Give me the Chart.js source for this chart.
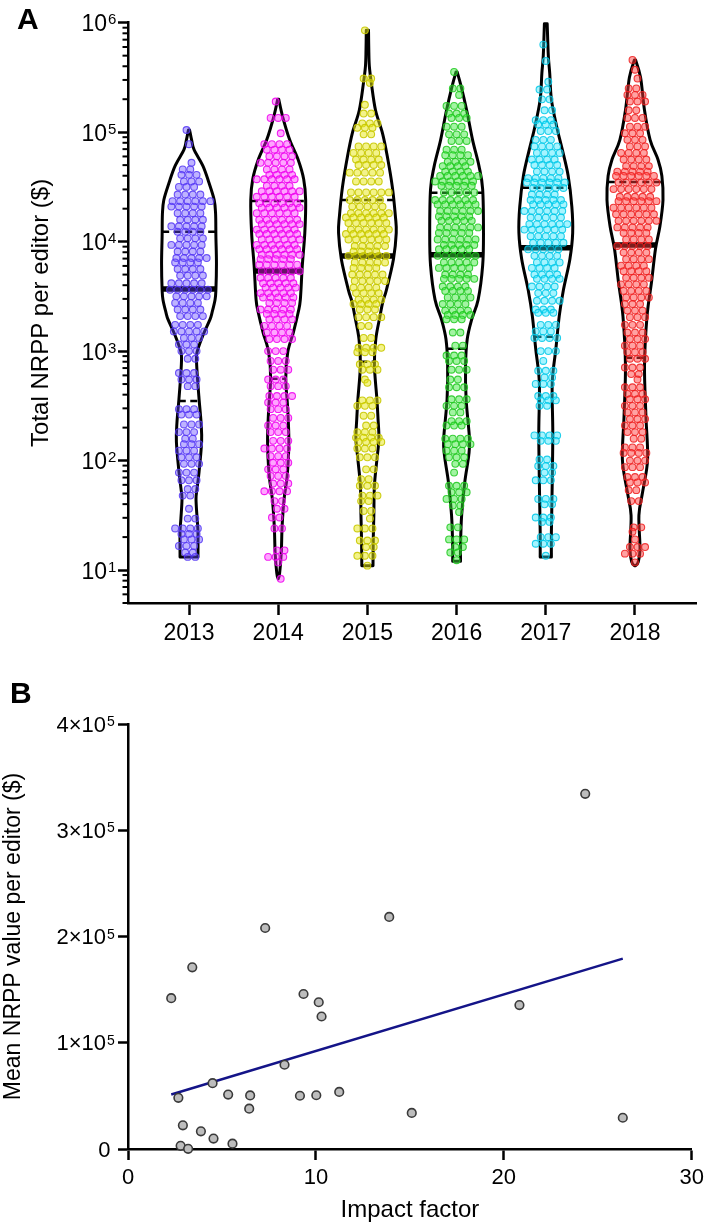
<!DOCTYPE html>
<html>
<head>
<meta charset="utf-8">
<script src="https://cdn.jsdelivr.net/npm/chart.js@4.4.1/dist/chart.umd.min.js"></script>
<style>
  html, body { margin: 0; padding: 0; background: #fff; }
  body { width: 709px; height: 1224px; position: relative; overflow: hidden; }
  #ca { position: absolute; left: 0; top: 0; }
  #cb { position: absolute; left: 0; top: 660px; }
</style>
</head>
<body>
<canvas id="ca" width="709" height="660"></canvas>
<canvas id="cb" width="709" height="564"></canvas>
<script>
// ---------------- DATA: panel A ----------------
const years = [2013, 2014, 2015, 2016, 2017, 2018];

// Editors per value level: [log10 of total NRPP ($), number of editors at that level]
const rows2013 = [[5.02,1],[4.89,1],[4.72,1],[4.66,2],[4.61,3],[4.55,3],[4.5,3],[4.43,4],[4.37,6],[4.32,5],[4.26,4],[4.2,4],[4.14,5],[4.09,4],[4.03,4],[3.97,5],[3.91,4],[3.85,5],[3.81,4],[3.75,4],[3.69,4],[3.62,5],[3.56,6],[3.5,5],[3.44,4],[3.38,4],[3.32,4],[3.24,4],[3.18,5],[3.12,3],[3.06,3],[3.0,3],[2.93,2],[2.8,3],[2.74,3],[2.68,2],[2.47,3],[2.42,3],[2.33,3],[2.26,3],[2.2,2],[2.15,3],[2.09,3],[2.03,3],[1.97,3],[1.89,3],[1.82,3],[1.74,2],[1.68,2],[1.56,1],[1.47,2],[1.38,4],[1.33,3],[1.28,3],[1.22,3],[1.16,2],[1.12,2]];
const rows2014 = [[5.28,1],[5.13,3],[4.99,1],[4.89,4],[4.84,4],[4.78,4],[4.72,5],[4.66,4],[4.61,4],[4.57,6],[4.51,4],[4.46,6],[4.41,6],[4.35,6],[4.31,6],[4.26,6],[4.2,6],[4.16,6],[4.11,6],[4.07,6],[4.02,6],[3.97,6],[3.93,6],[3.88,6],[3.84,5],[3.79,6],[3.73,6],[3.67,5],[3.62,5],[3.58,5],[3.53,5],[3.49,5],[3.44,4],[3.38,5],[3.34,4],[3.29,4],[3.23,4],[3.17,4],[3.11,4],[3.0,3],[2.91,3],[2.83,3],[2.74,3],[2.68,3],[2.59,4],[2.53,3],[2.47,3],[2.39,3],[2.32,3],[2.26,3],[2.18,3],[2.11,4],[2.04,3],[1.98,3],[1.92,3],[1.86,3],[1.79,3],[1.72,4],[1.63,2],[1.56,2],[1.48,2],[1.38,2],[1.18,2],[1.12,3],[1.07,1],[0.92,1]];
const rows2015 = [[5.93,1],[5.49,2],[5.45,1],[5.25,1],[5.17,2],[5.08,3],[5.04,3],[4.98,2],[4.87,4],[4.81,4],[4.75,4],[4.7,4],[4.63,5],[4.55,4],[4.45,6],[4.38,5],[4.32,5],[4.26,6],[4.22,6],[4.17,6],[4.11,6],[4.07,6],[4.02,6],[3.96,5],[3.91,4],[3.87,6],[3.81,5],[3.76,4],[3.7,5],[3.64,5],[3.58,4],[3.53,4],[3.47,4],[3.43,4],[3.38,3],[3.31,4],[3.23,2],[3.12,2],[3.03,4],[2.99,3],[2.88,3],[2.83,3],[2.74,1],[2.71,1],[2.55,3],[2.5,3],[2.41,2],[2.32,2],[2.26,3],[2.21,4],[2.17,4],[2.11,3],[2.03,3],[1.92,2],[1.83,2],[1.77,3],[1.68,3],[1.63,2],[1.54,2],[1.47,1],[1.38,3],[1.27,3],[1.21,2],[1.13,3],[1.04,1]];
const rows2016 = [[5.55,1],[5.4,2],[5.34,1],[5.24,3],[5.17,3],[5.13,3],[5.05,3],[4.98,3],[4.92,3],[4.84,3],[4.79,4],[4.73,4],[4.69,4],[4.64,4],[4.6,6],[4.55,6],[4.51,5],[4.45,5],[4.38,6],[4.34,6],[4.28,6],[4.23,5],[4.19,5],[4.13,6],[4.08,5],[4.02,6],[3.97,5],[3.93,5],[3.87,6],[3.81,5],[3.76,5],[3.7,4],[3.66,5],[3.59,4],[3.55,4],[3.49,4],[3.43,4],[3.37,4],[3.33,4],[3.29,3],[3.17,2],[3.05,2],[2.96,3],[2.91,3],[2.83,3],[2.74,2],[2.67,3],[2.56,3],[2.5,3],[2.44,2],[2.36,3],[2.32,3],[2.2,4],[2.15,4],[2.09,3],[2.03,3],[1.97,2],[1.89,1],[1.77,3],[1.71,3],[1.65,3],[1.59,2],[1.53,1],[1.39,2],[1.28,3],[1.21,2],[1.16,2],[1.09,1]];
const rows2017 = [[5.8,1],[5.65,1],[5.46,1],[5.39,2],[5.3,2],[5.2,2],[5.11,3],[5.07,3],[5.01,3],[4.93,3],[4.87,4],[4.81,4],[4.75,4],[4.7,4],[4.64,4],[4.58,5],[4.54,6],[4.49,5],[4.43,4],[4.38,5],[4.34,5],[4.28,6],[4.22,5],[4.16,6],[4.11,6],[4.05,5],[3.99,5],[3.93,5],[3.87,4],[3.81,4],[3.76,4],[3.7,4],[3.66,4],[3.59,4],[3.53,3],[3.46,4],[3.38,3],[3.35,3],[3.24,3],[3.18,3],[3.12,4],[3.0,3],[2.91,1],[2.82,3],[2.76,2],[2.7,3],[2.59,3],[2.55,3],[2.5,2],[2.23,4],[2.18,3],[2.01,2],[1.95,3],[1.89,2],[1.82,3],[1.65,3],[1.6,2],[1.48,3],[1.44,2],[1.3,3],[1.24,3],[1.13,1]];
const rows2018 = [[5.66,1],[5.57,1],[5.49,1],[5.4,2],[5.34,3],[5.28,3],[5.2,2],[5.13,3],[5.05,3],[4.99,3],[4.93,3],[4.87,3],[4.81,4],[4.75,4],[4.69,4],[4.64,5],[4.6,6],[4.54,6],[4.48,6],[4.41,5],[4.37,6],[4.31,6],[4.25,6],[4.19,6],[4.13,5],[4.08,4],[4.02,4],[3.96,5],[3.9,4],[3.84,4],[3.78,4],[3.73,4],[3.67,4],[3.61,4],[3.55,4],[3.49,4],[3.43,3],[3.37,3],[3.31,3],[3.24,3],[3.17,3],[3.11,3],[3.05,3],[2.99,3],[2.93,3],[2.85,3],[2.79,2],[2.74,1],[2.67,3],[2.61,3],[2.56,3],[2.5,3],[2.44,3],[2.38,3],[2.32,3],[2.26,3],[2.2,2],[2.12,3],[2.07,4],[2.0,3],[1.94,3],[1.85,3],[1.8,3],[1.73,2],[1.63,2],[1.39,2],[1.35,1],[1.28,1],[1.21,3],[1.15,3],[1.07,1]];

// Violin density profiles: [log10 value, relative density (1 = widest)]
const violin2013 = [[5.02,0.02],[4.92,0.1],[4.84,0.18],[4.69,0.5],[4.54,0.71],[4.38,0.9],[4.25,0.95],[4.05,0.96],[3.8,0.98],[3.56,0.96],[3.47,0.93],[3.35,0.82],[3.29,0.75],[3.17,0.54],[3.05,0.36],[2.96,0.27],[2.8,0.29],[2.56,0.36],[2.35,0.43],[2.17,0.45],[1.9,0.36],[1.75,0.29],[1.65,0.25],[1.47,0.29],[1.35,0.32],[1.12,0.32]];
const violin2014 = [[5.3,0.02],[5.14,0.16],[4.93,0.41],[4.75,0.71],[4.57,0.91],[4.38,0.98],[4.08,0.95],[3.78,0.86],[3.47,0.79],[3.35,0.71],[3.17,0.54],[2.99,0.34],[2.75,0.27],[2.47,0.34],[2.17,0.38],[1.86,0.32],[1.65,0.21],[1.4,0.14],[1.16,0.11],[0.97,0.05],[0.92,0.0]];
const violin2015 = [[5.93,0.04],[5.75,0.05],[5.6,0.07],[5.45,0.14],[5.2,0.29],[4.99,0.54],[4.78,0.71],[4.5,0.89],[4.23,1.0],[4.08,1.03],[3.84,0.93],[3.56,0.68],[3.45,0.55],[3.32,0.45],[3.11,0.3],[2.87,0.25],[2.56,0.34],[2.38,0.38],[2.2,0.41],[2.01,0.34],[1.77,0.25],[1.5,0.23],[1.29,0.21],[1.04,0.2]];
const violin2016 = [[5.55,0.02],[5.42,0.16],[5.2,0.36],[4.93,0.57],[4.69,0.8],[4.48,0.93],[4.08,0.96],[3.78,0.93],[3.47,0.77],[3.29,0.54],[3.11,0.38],[2.87,0.32],[2.56,0.34],[2.2,0.46],[2.04,0.43],[1.8,0.29],[1.5,0.18],[1.22,0.14],[1.08,0.14]];
const violin2017 = [[5.99,0.05],[5.7,0.09],[5.54,0.14],[5.3,0.2],[5.05,0.39],[4.84,0.59],[4.6,0.8],[4.32,0.93],[4.08,0.96],[3.84,0.86],[3.56,0.63],[3.32,0.48],[3.02,0.36],[2.71,0.23],[2.26,0.25],[1.8,0.23],[1.35,0.2],[1.12,0.2]];
const violin2018 = [[5.66,0.02],[5.5,0.2],[5.2,0.34],[4.93,0.54],[4.75,0.82],[4.6,0.96],[4.38,1.0],[4.14,0.89],[3.93,0.73],[3.63,0.59],[3.32,0.43],[2.87,0.34],[2.41,0.39],[2.01,0.45],[1.71,0.27],[1.5,0.14],[1.19,0.18],[1.07,0.11],[1.04,0.02]];

// Summary lines ($)
const medians        = [3700, 5400, 7400, 7600, 8800, 9300];
const upperQuartiles = [12300, 23500, 24000, 28000, 31000, 35000];
const lowerQuartiles = [350, 560, 800, 1050, 1350, 870];

// Axis A tick labels
const decadeValues = [10, 100, 1000, 10000, 100000, 1000000];
const decadeExps   = ['1', '2', '3', '4', '5', '6'];

// ---------------- DATA: panel B ----------------
const impactFactor = [2.3, 3.42, 7.3, 13.9, 24.33, 9.34, 10.15, 10.3, 20.83, 8.33, 4.5, 2.68, 5.33, 6.5, 6.45, 9.15, 10.02, 11.24, 15.1, 26.33, 2.92, 3.88, 4.55, 2.8, 3.2, 5.56];
const meanNRPP     = [142000, 171000, 208000, 218400, 334300, 145900, 138100, 124700, 135500, 79300, 62000, 48200, 51200, 50400, 38000, 50100, 50600, 53700, 34000, 29400, 22300, 16600, 9800, 3000, 200, 5000];
const fitX = [2.3, 26.33];
const fitY = [51300, 179200];
const bTickValues = [0, 100000, 200000, 300000, 400000];
const bTickMain   = ['0', '1×10', '2×10', '3×10', '4×10'];
const bTickSup    = ['', '5', '5', '5', '5'];
const bXTicks     = [0, 10, 20, 30];

// ---------------- STYLE ----------------
const FONT = '"Liberation Sans", Arial, Helvetica, sans-serif';
const fills   = ['rgba(100,75,255,0.42)', 'rgba(255,40,255,0.42)', 'rgba(232,232,20,0.5)', 'rgba(60,232,60,0.48)', 'rgba(40,228,255,0.42)', 'rgba(255,60,60,0.48)'];
const borders = ['rgba(85,55,245,0.85)', 'rgba(238,0,238,0.85)', 'rgba(200,200,0,0.9)', 'rgba(30,200,30,0.85)', 'rgba(0,200,232,0.85)', 'rgba(238,30,30,0.85)'];
const SWARM_STEP = 0.085;      // years between neighbouring points in one row
const VIOLIN_MAX_HALF = 0.314; // years, half width at density 1

const rowsByYear = [rows2013, rows2014, rows2015, rows2016, rows2017, rows2018];
const violinByYear = [violin2013, violin2014, violin2015, violin2016, violin2017, violin2018];

// beeswarm-style row layout: points of one row side by side, rows slightly staggered
function swarm(year, rows) {
  const out = [];
  rows.forEach(([lv, n], idx) => {
    const shift = ((idx % 3) - 1) * SWARM_STEP * 0.33;
    for (let k = 0; k < n; k++) {
      out.push({ x: year + shift + (k - (n - 1) / 2) * SWARM_STEP, y: Math.pow(10, lv) });
    }
  });
  return out;
}

function smoothThrough(ctx, pts, move) {
  if (move) ctx.moveTo(pts[0][0], pts[0][1]); else ctx.lineTo(pts[0][0], pts[0][1]);
  for (let i = 0; i < pts.length - 1; i++) {
    const p0 = pts[Math.max(i - 1, 0)], p1 = pts[i], p2 = pts[i + 1], p3 = pts[Math.min(i + 2, pts.length - 1)];
    ctx.bezierCurveTo(p1[0] + (p2[0] - p0[0]) / 6, p1[1] + (p2[1] - p0[1]) / 6,
                      p2[0] - (p3[0] - p1[0]) / 6, p2[1] - (p3[1] - p1[1]) / 6, p2[0], p2[1]);
  }
}

function densityAt(prof, lv) {
  for (let j = 0; j < prof.length - 1; j++) {
    const a = prof[j], b = prof[j + 1];
    if (lv <= a[0] && lv >= b[0]) {
      const t = (a[0] - lv) / (a[0] - b[0]);
      return a[1] + (b[1] - a[1]) * t;
    }
  }
  return 0;
}

const violinPlugin = {
  id: 'violins',
  beforeDatasetsDraw(chart) {
    const { ctx, scales: { x, y } } = chart;
    const pxYear = x.getPixelForValue(years[1]) - x.getPixelForValue(years[0]);
    const half = VIOLIN_MAX_HALF * pxYear;
    years.forEach((yr, i) => {
      const prof = violinByYear[i];
      const cx = x.getPixelForValue(yr);
      const right = prof.map(([lv, d]) => [cx + d * half, y.getPixelForValue(Math.pow(10, lv))]);
      const left = prof.map(([lv, d]) => [cx - d * half, y.getPixelForValue(Math.pow(10, lv))]).reverse();
      ctx.save();
      ctx.beginPath();
      smoothThrough(ctx, right, true);
      smoothThrough(ctx, left, false);
      ctx.closePath();
      ctx.lineWidth = 3;
      ctx.lineJoin = 'round';
      ctx.strokeStyle = '#000';
      ctx.stroke();
      ctx.setLineDash([7, 4.5]);
      ctx.lineWidth = 2.5;
      [upperQuartiles[i], lowerQuartiles[i]].forEach(q => {
        const w = densityAt(prof, Math.log10(q)) * half;
        const py = y.getPixelForValue(q);
        ctx.beginPath(); ctx.moveTo(cx - w, py); ctx.lineTo(cx + w, py); ctx.stroke();
      });
      ctx.setLineDash([]);
      ctx.lineWidth = 5.5;
      const wm = densityAt(prof, Math.log10(medians[i])) * half;
      const pm = y.getPixelForValue(medians[i]);
      ctx.beginPath(); ctx.moveTo(cx - wm, pm); ctx.lineTo(cx + wm, pm); ctx.stroke();
      ctx.restore();
    });
  }
};

const minorTicks = [5, 6, 7, 8, 9];
[10, 100, 1000, 10000, 100000].forEach(p => { for (let m = 2; m <= 9; m++) minorTicks.push(m * p); });

const axisAPlugin = {
  id: 'axisA',
  afterDraw(chart) {
    const { ctx, chartArea, scales: { y } } = chart;
    ctx.save();
    ctx.strokeStyle = '#000';
    ctx.lineWidth = 2;
    minorTicks.forEach(v => {
      const py = y.getPixelForValue(v);
      ctx.beginPath(); ctx.moveTo(chartArea.left - 5.5, py); ctx.lineTo(chartArea.left, py); ctx.stroke();
    });
    ctx.fillStyle = '#000';
    decadeValues.forEach((v, i) => {
      const py = y.getPixelForValue(v);
      ctx.font = `23px ${FONT}`;
      ctx.textAlign = 'right';
      ctx.textBaseline = 'alphabetic';
      ctx.fillText('10', 107, py + 8.5);
      ctx.font = `15px ${FONT}`;
      ctx.textAlign = 'left';
      ctx.fillText(decadeExps[i], 108, py + 1.5);
    });
    ctx.translate(41, (chartArea.top + chartArea.bottom) / 2);
    ctx.rotate(-Math.PI / 2);
    ctx.font = `24px ${FONT}`;
    ctx.textAlign = 'center';
    ctx.textBaseline = 'middle';
    ctx.fillText('Total NRPP per editor ($)', 0, 0);
    ctx.restore();
    ctx.save();
    ctx.font = `bold 30px ${FONT}`;
    ctx.fillStyle = '#000';
    ctx.textAlign = 'left';
    ctx.textBaseline = 'alphabetic';
    ctx.fillText('A', 17, 28.5);
    ctx.restore();
  }
};

const axisBPlugin = {
  id: 'axisB',
  afterDraw(chart) {
    const { ctx, chartArea, scales: { y } } = chart;
    ctx.save();
    ctx.fillStyle = '#000';
    bTickValues.forEach((v, i) => {
      const py = y.getPixelForValue(v);
      ctx.textBaseline = 'alphabetic';
      if (bTickSup[i]) {
        ctx.font = `22px ${FONT}`;
        ctx.textAlign = 'right';
        ctx.fillText(bTickMain[i], 106, py + 7.5);
        ctx.font = `14px ${FONT}`;
        ctx.textAlign = 'left';
        ctx.fillText(bTickSup[i], 107, py + 2);
      } else {
        ctx.font = `22px ${FONT}`;
        ctx.textAlign = 'right';
        ctx.fillText(bTickMain[i], 110.5, py + 7.5);
      }
    });
    ctx.save();
    ctx.translate(14, (chartArea.top + chartArea.bottom) / 2);
    ctx.rotate(-Math.PI / 2);
    ctx.font = `23px ${FONT}`;
    ctx.textAlign = 'center';
    ctx.textBaseline = 'middle';
    ctx.fillText('Mean NRPP value per editor ($)', 0, 0);
    ctx.restore();
    ctx.font = `24px ${FONT}`;
    ctx.textAlign = 'center';
    ctx.textBaseline = 'middle';
    ctx.fillText('Impact factor', (chartArea.left + chartArea.right) / 2, 550);
    ctx.font = `bold 30px ${FONT}`;
    ctx.textAlign = 'left';
    ctx.textBaseline = 'alphabetic';
    ctx.fillText('B', 10, 43);
    ctx.restore();
  }
};

const commonAxis = {
  border: { display: true, color: '#000', width: 2.5 },
};

// ---------------- CHART A ----------------
new Chart(document.getElementById('ca'), {
  type: 'scatter',
  data: {
    datasets: years.map((yr, i) => ({
      label: String(yr),
      data: swarm(yr, rowsByYear[i]),
      pointRadius: 3.4,
      pointBorderWidth: 1.1,
      pointBackgroundColor: fills[i],
      pointBorderColor: borders[i],
      clip: false
    }))
  },
  options: {
    responsive: false,
    animation: false,
    events: [],
    layout: { padding: { top: 22.7, right: 13, left: 0, bottom: 0 } },
    plugins: { legend: { display: false }, tooltip: { enabled: false } },
    scales: {
      x: {
        type: 'linear', min: 2012.316, max: 2018.684,
        afterBuildTicks: s => { s.ticks = years.map(v => ({ value: v })); },
        afterFit: s => { s.height = 57; },
        ...commonAxis,
        grid: { display: true, drawOnChartArea: false, drawTicks: true, tickLength: 12, tickWidth: 2.5, tickColor: '#000' },
        ticks: { color: '#000', font: { size: 23, family: FONT }, padding: 5, maxRotation: 0, autoSkip: false, callback: v => String(v) }
      },
      y: {
        type: 'logarithmic', min: 5, max: 1000000,
        afterBuildTicks: s => { s.ticks = decadeValues.map(v => ({ value: v, major: true })); },
        afterFit: s => { s.width = 128; },
        ...commonAxis,
        grid: { display: true, drawOnChartArea: false, drawTicks: true, tickLength: 10, tickWidth: 2.5, tickColor: '#000' },
        ticks: { display: false }
      }
    }
  },
  plugins: [violinPlugin, axisAPlugin]
});

// ---------------- CHART B ----------------
new Chart(document.getElementById('cb'), {
  type: 'scatter',
  data: {
    datasets: [
      {
        type: 'line',
        label: 'Linear fit',
        data: fitX.map((x, i) => ({ x, y: fitY[i] })),
        borderColor: '#141488',
        borderWidth: 2.5,
        pointRadius: 0,
        fill: false,
        order: 2
      },
      {
        label: 'Journals',
        data: impactFactor.map((x, i) => ({ x, y: meanNRPP[i] })),
        pointRadius: 4.3,
        pointBorderWidth: 1.6,
        pointBackgroundColor: '#bdbdbd',
        pointBorderColor: '#3a3a3a',
        clip: false,
        order: 1
      }
    ]
  },
  options: {
    responsive: false,
    animation: false,
    events: [],
    layout: { padding: { top: 64, right: 14, left: 0, bottom: 0 } },
    plugins: { legend: { display: false }, tooltip: { enabled: false } },
    scales: {
      x: {
        type: 'linear', min: 0, max: 30,
        afterBuildTicks: s => { s.ticks = bXTicks.map(v => ({ value: v })); },
        afterFit: s => { s.height = 75; },
        ...commonAxis,
        grid: { display: true, drawOnChartArea: false, drawTicks: true, tickLength: 11, tickWidth: 2.5, tickColor: '#000' },
        ticks: { color: '#000', font: { size: 22, family: FONT }, padding: 5, maxRotation: 0, autoSkip: false, callback: v => String(v) }
      },
      y: {
        type: 'linear', min: 0, max: 400000,
        afterBuildTicks: s => { s.ticks = bTickValues.map(v => ({ value: v })); },
        afterFit: s => { s.width = 128; },
        ...commonAxis,
        grid: { display: true, drawOnChartArea: false, drawTicks: true, tickLength: 10, tickWidth: 2.5, tickColor: '#000' },
        ticks: { display: false }
      }
    }
  },
  plugins: [axisBPlugin]
});
</script>
</body>
</html>
